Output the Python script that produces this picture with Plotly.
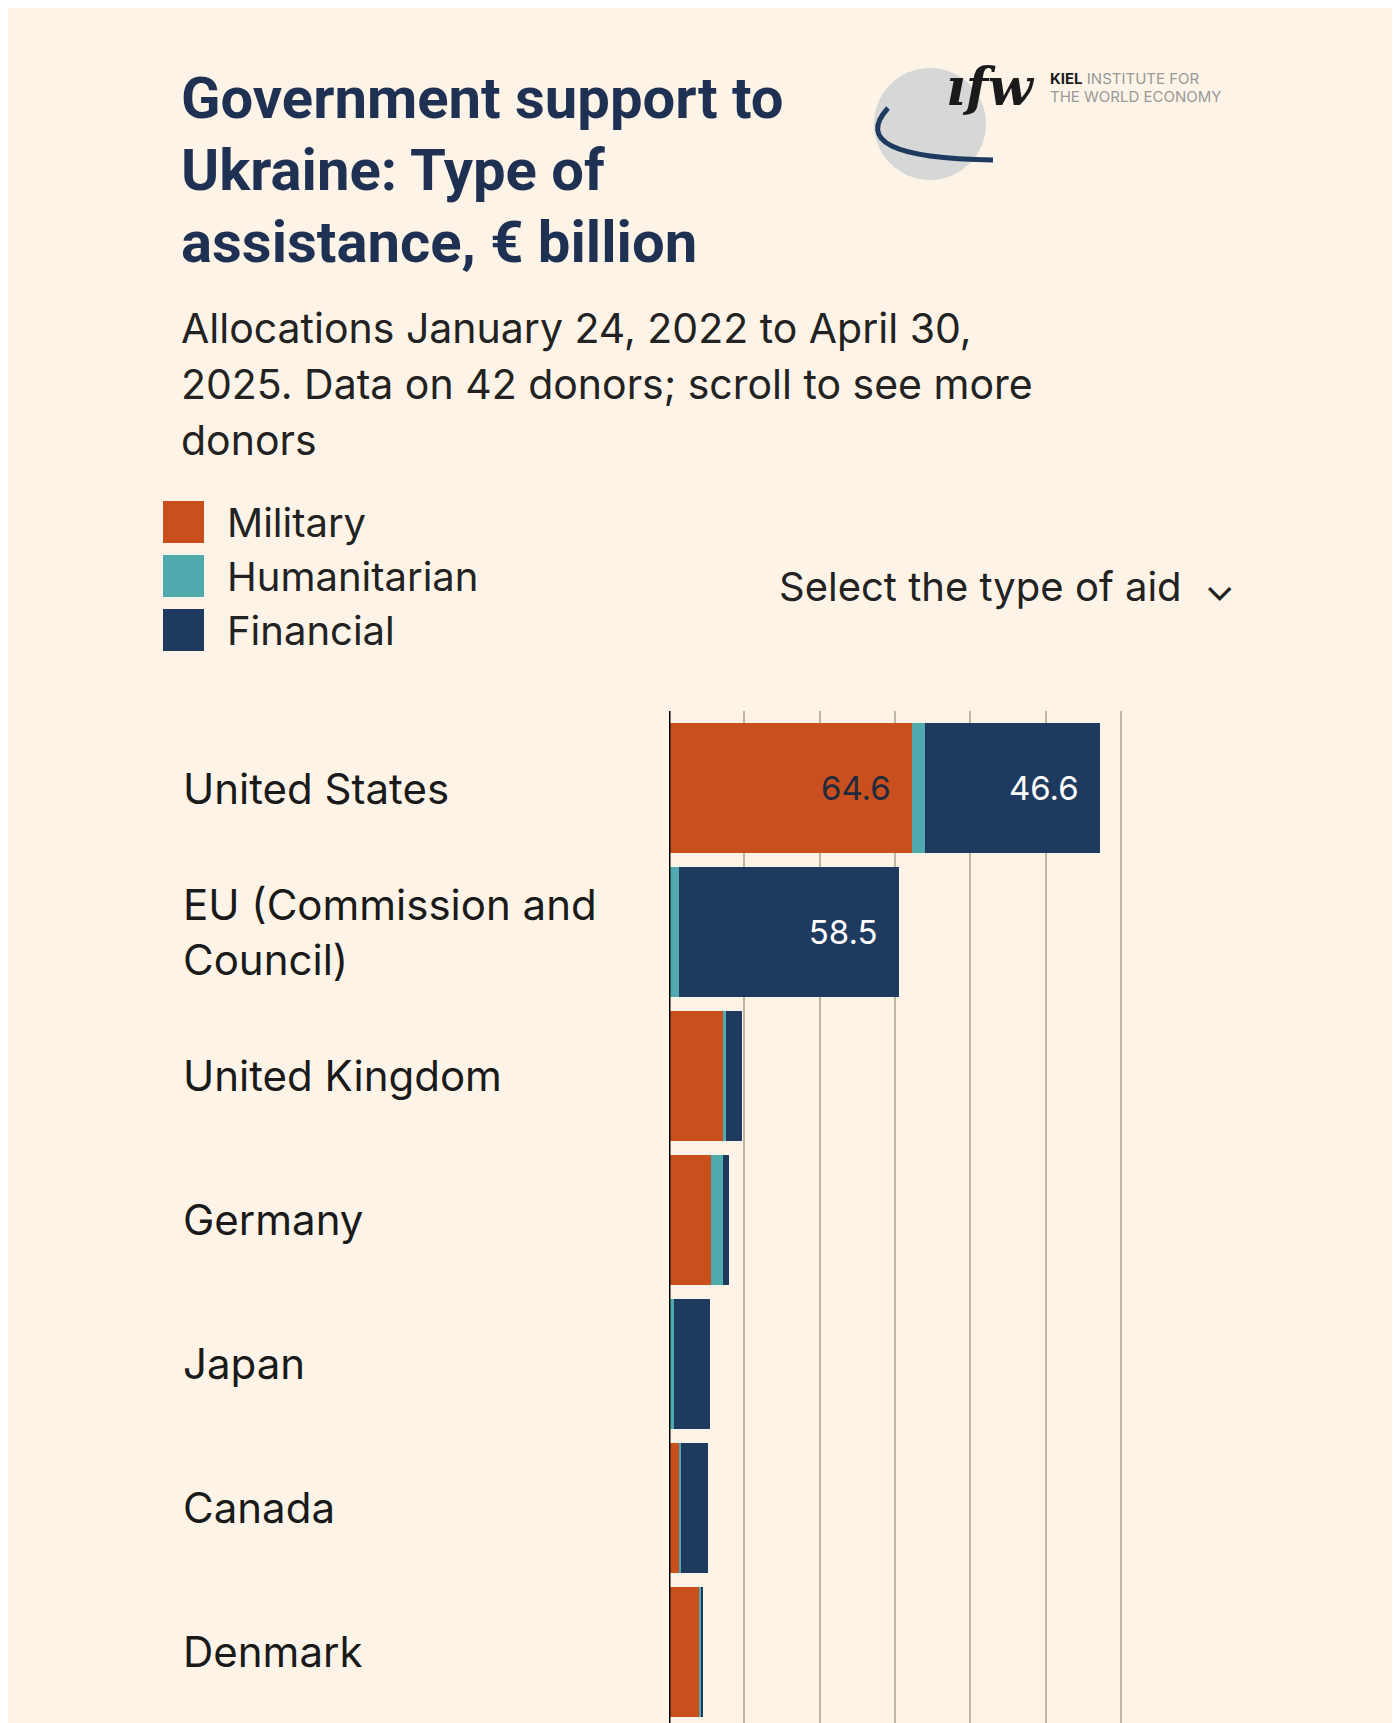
import plotly.graph_objects as go

countries = ["United States", "EU (Commission and<br>Council)", "United Kingdom", "Germany", "Japan", "Canada", "Denmark"]
military = [64.6, 0.0, 14.3, 11.1, 0.1, 2.9, 8.2]
humanitarian = [3.3, 2.6, 0.9, 3.2, 1.2, 0.4, 0.3]
financial = [46.6, 58.5, 4.1, 1.5, 9.6, 7.0, 0.6]
mil_labels = ["64.6  ", "", "", "", "", "", ""]
fin_labels = ["46.6  ", "58.5  ", "", "", "", "", ""]
xticks = [20, 40, 60, 80, 100, 120]

BG = "#fdf4e7"
L = 661
W = 1400 - L - 260
pos = list(range(len(countries)))
fig = go.Figure()
fig.add_bar(y=pos, x=military, orientation="h", marker_color="#c94f1f", name="Military",
            text=mil_labels, textposition="inside", insidetextanchor="end",
            textfont=dict(color="#1f2a3a", size=33, family="Inter"), marker_line_width=0)
fig.add_bar(y=pos, x=humanitarian, orientation="h", marker_color="#4fa9ad", name="Humanitarian",
            marker_line_width=0)
fig.add_bar(y=pos, x=financial, orientation="h", marker_color="#1f3a5f", name="Financial",
            text=fin_labels, textposition="inside", insidetextanchor="end",
            textfont=dict(color="white", size=33, family="Inter"), marker_line_width=0)

xmax = 120 * W / 452
fig.update_layout(
    width=1400, height=1723, barmode="stack", bargap=0.1, showlegend=False,
    paper_bgcolor=BG, plot_bgcolor=BG,
    margin=dict(l=L, r=260, t=703, b=0),
    font=dict(family="Inter", color="#1f2a3a"),
    xaxis=dict(range=[0, xmax], tickvals=xticks, showticklabels=False, showgrid=True,
               gridcolor="#bfb5a3", gridwidth=2, zeroline=False, fixedrange=True),
    yaxis=dict(range=[6.55, -0.535], showticklabels=False, showgrid=False, zeroline=False),
    uniformtext=dict(mode="show", minsize=10),
)
fig.add_shape(type="line", xref="x", yref="paper", x0=0, x1=0, y0=0, y1=1,
              line=dict(color="black", width=3))

def px(x):
    return (x - L) / W

for i, c in enumerate(countries):
    fig.add_annotation(xref="paper", yref="y", x=px(173), y=i, text=c, showarrow=False,
                       xanchor="left", yanchor="middle", align="left",
                       font=dict(size=42, color="#1a1a1a", family="Inter"))

def ann(x, y, text, size, color="#1f2a3a", anchor="left", family="Inter"):
    fig.add_annotation(xref="paper", yref="paper",
                       x=px(x), y=(1723 - y) / 1020, text=text, showarrow=False,
                       xanchor=anchor, yanchor="middle", align="left",
                       font=dict(size=size, color=color, family=family))

for j, t in enumerate(["<b>Government support to</b>", "<b>Ukraine: Type of</b>", "<b>assistance, € billion</b>"]):
    ann(171, 90 + 72 * j, t, 58, color="#1f3152", family="Roboto")
for j, t in enumerate(["Allocations January 24, 2022 to April 30,",
                       "2025. Data on 42 donors; scroll to see more", "donors"]):
    ann(171, 320 + 56 * j, t, 41, color="#222")

leg = [("Military", "#c94f1f"), ("Humanitarian", "#4fa9ad"), ("Financial", "#1f3a5f")]
for j, (t, col) in enumerate(leg):
    yc = 514 + 54 * j
    fig.add_shape(type="rect", xref="paper", yref="paper",
                  x0=px(155), x1=px(196),
                  y0=(1723 - yc - 21) / 1020, y1=(1723 - yc + 21) / 1020,
                  fillcolor=col, line_width=0)
    ann(217, yc, t, 40, color="#222")
ann(769, 578, "Select the type of aid  ⌄", 40, color="#222")

# logo
fig.add_shape(type="circle", xref="paper", yref="paper",
              x0=px(866), x1=px(978),
              y0=(1723 - 172) / 1020, y1=(1723 - 60) / 1020,
              fillcolor="#d5d8d6", line_width=0)
fig.add_shape(type="path", xref="paper", yref="paper",
              path="M %f %f Q %f %f %f %f" % (px(880), (1723 - 100) / 1020,
                                              px(835), (1723 - 150) / 1020,
                                              px(985), (1723 - 152) / 1020),
              line=dict(color="#1f3a5f", width=5))
ann(936, 78, "<b><i>ıfw</i></b>", 52, color="#1a1a1a", family="DejaVu Serif")
ann(1040, 70, "<b>KIEL</b> <span style='color:#999'>INSTITUTE FOR</span>", 15, color="#1a1a1a")
ann(1040, 89, "<span style='color:#999'>THE WORLD ECONOMY</span>", 15)

fig.write_html("out.html")
